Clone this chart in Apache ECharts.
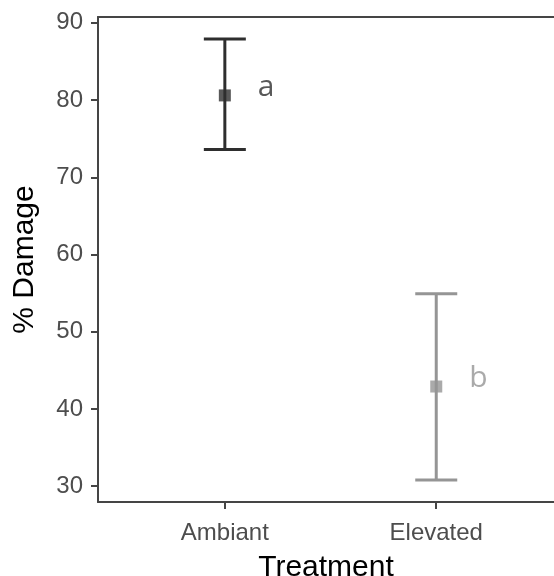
<!DOCTYPE html>
<html>
<head>
<meta charset="utf-8">
<script src="https://cdn.jsdelivr.net/npm/echarts@6/dist/echarts.min.js"></script>
<style>
  html, body { margin: 0; padding: 0; background: #ffffff; overflow: hidden; }
  #chart { width: 554px; height: 576px; }
</style>
</head>
<body>
<div id="chart"></div>
<script>
// Mean % damage per treatment with error bars and significance letters
const categories = ['Ambiant', 'Elevated'];
const meanDamage = [80.6, 42.9];
const lowerDamage = [73.6, 30.8];
const upperDamage = [87.9, 54.9];
const groupLetters = ['a', 'b'];
const yTickValues = [30, 40, 50, 60, 70, 80, 90];

const seriesColors = ['#2e2e2e', '#959595'];

// Discrete positions 1..n on a continuous axis; the panel runs on past
// the right edge of the canvas, so the visible x range stops short of n + 0.6
const xPos = categories.map((c, i) => i + 1);
const xMin = 0.4, xMax = 2.557;
const yLo = Math.min(...lowerDamage), yHi = Math.max(...upperDamage);
const yPad = (yHi - yLo) * 0.05;

const frameColor = '#454545';
const chart = echarts.init(document.getElementById('chart'));

const errData = categories.map((c, i) => ({
  value: [xPos[i], lowerDamage[i], upperDamage[i]],
  itemStyle: { color: seriesColors[i] }
}));

const pointData = categories.map((c, i) => ({
  value: [xPos[i], meanDamage[i]],
  itemStyle: { color: seriesColors[i] },
  label: { color: seriesColors[i], formatter: groupLetters[i] }
}));

chart.setOption({
  animation: false,
  grid: { left: 98, top: 17, right: 0, bottom: 74, containLabel: false, outerBoundsMode: 'none' },
  xAxis: [
    {
      type: 'value',
      min: xMin, max: xMax,
      name: 'Treatment',
      nameLocation: 'middle',
      nameGap: 51,
      nameTextStyle: { fontFamily: 'Liberation Sans', fontSize: 30, color: '#000000' },
      splitLine: { show: false },
      axisLine: { show: true, onZero: false, lineStyle: { color: frameColor, width: 2 } },
      axisTick: { show: true, length: 7, customValues: xPos, lineStyle: { color: frameColor, width: 2 } },
      axisLabel: {
        customValues: xPos,
        formatter: v => categories[Math.round(v) - 1] || '',
        fontFamily: 'Liberation Sans', fontSize: 24, color: '#4d4d4d', margin: 19
      }
    },
    {
      // top edge of the panel frame
      type: 'value',
      position: 'top',
      min: xMin, max: xMax,
      splitLine: { show: false },
      axisLine: { show: true, onZero: false, lineStyle: { color: frameColor, width: 2 } },
      axisTick: { show: false },
      axisLabel: { show: false }
    }
  ],
  yAxis: {
    type: 'value',
    min: yLo - yPad, max: yHi + yPad,
    name: '% Damage',
    nameLocation: 'middle',
    nameGap: 58,
    nameTextStyle: { fontFamily: 'Liberation Sans', fontSize: 30, color: '#000000' },
    splitLine: { show: false },
    axisLine: { show: true, onZero: false, lineStyle: { color: frameColor, width: 2 } },
    axisTick: { show: true, length: 7, customValues: yTickValues, lineStyle: { color: frameColor, width: 2 } },
    axisLabel: {
      customValues: yTickValues,
      fontFamily: 'Liberation Sans', fontSize: 24, color: '#4d4d4d', margin: 15
    }
  },
  series: [
    {
      type: 'custom',
      data: errData,
      renderItem: (params, api) => {
        const x = api.value(0);
        const lo = api.coord([x, api.value(1)]);
        const hi = api.coord([x, api.value(2)]);
        const half = 21;
        const color = api.visual('color');
        const style = { stroke: color, lineWidth: 3 };
        return {
          type: 'group',
          children: [
            { type: 'line', shape: { x1: lo[0], y1: lo[1], x2: hi[0], y2: hi[1] }, style },
            { type: 'line', shape: { x1: hi[0] - half, y1: hi[1], x2: hi[0] + half, y2: hi[1] }, style },
            { type: 'line', shape: { x1: lo[0] - half, y1: lo[1], x2: lo[0] + half, y2: lo[1] }, style }
          ]
        };
      },
      z: 2
    },
    {
      type: 'scatter',
      data: pointData,
      symbol: 'rect',
      symbolSize: 12,
      label: {
        show: true,
        position: 'right',
        distance: 0,
        offset: [27, -8],
        fontFamily: 'Open Sans',
        fontSize: 30
      },
      z: 3
    }
  ]
});
</script>
</body>
</html>
